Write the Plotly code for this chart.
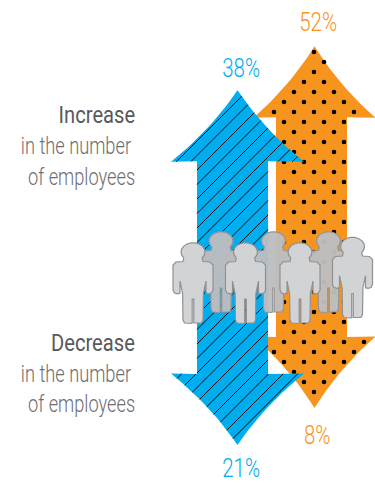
import math
import plotly.graph_objects as go

# Share of respondents expecting each change in headcount
series_colors = {"blue": "#00aeef", "orange": "#f7941d"}
increase_values = {"blue": 38, "orange": 52}
decrease_values = {"blue": 21, "orange": 8}

W, H = 375, 483

# Value scales: points to page pixels for the two arrow directions
UP_ZERO, UP_SCALE = 209.6, 3.14
DOWN_ZERO, DOWN_SCALE = 385.2, 2.85
HEAD_H = 71.5

HEAD_CENTER = {"blue": 237.5, "orange": 314.5}
HEAD_HALF = {"blue": 66.5, "orange": 61.0}
SHAFT_CENTER = {"blue": 232.5, "orange": 311.5}
SHAFT_HALF = {"blue": 35.5, "orange": 35.5}

BACK_ROW = [(221, 241), (273.5, 241), (328.5, 241)]
FRONT_ROW = [(193, 252), (245.5, 252), (300, 252), (352.5, 246.5)]


def bezier(p0, c, p1, n=14):
    pts = []
    for i in range(n + 1):
        t = i / n
        a, b, d = (1 - t) ** 2, 2 * t * (1 - t), t ** 2
        pts.append((a * p0[0] + b * c[0] + d * p1[0], a * p0[1] + b * c[1] + d * p1[1]))
    return pts


def double_arrow(cx, half, sx, shaft, top, bottom):
    """Closed outline of a two-headed arrow with concave head edges."""
    top_w, bot_w = top + HEAD_H, bottom - HEAD_H
    f, g = 0.40, 0.55
    pts = []
    pts += bezier((cx, top), (cx + f * half, top + g * HEAD_H), (cx + half, top_w))
    pts += [(sx + shaft, top_w - 0.5), (sx + shaft, bot_w + 0.5)]
    pts += bezier((cx + half, bot_w), (cx + f * half, bottom - g * HEAD_H), (cx, bottom))
    pts += bezier((cx, bottom), (cx - f * half, bottom - g * HEAD_H), (cx - half, bot_w))[1:]
    pts += [(sx - shaft, bot_w + 0.5), (sx - shaft, top_w - 0.5)]
    pts += bezier((cx - half, top_w), (cx - f * half, top + g * HEAD_H), (cx, top))
    return pts


def inside(pt, poly):
    x, y = pt
    hit = False
    for (x0, y0), (x1, y1) in zip(poly, poly[1:] + poly[:1]):
        if (y0 > y) != (y1 > y) and x < x0 + (y - y0) * (x1 - x0) / (y1 - y0):
            hit = not hit
    return hit


def hatch_segments(poly, offset0, step):
    """Clip 45-degree lines x + y = c to the outline."""
    xs, ys = [], []
    c = offset0
    while c < W + H:
        crossings = []
        for (x0, y0), (x1, y1) in zip(poly, poly[1:] + poly[:1]):
            s0, s1 = x0 + y0 - c, x1 + y1 - c
            if (s0 > 0) != (s1 > 0):
                t = s0 / (s0 - s1)
                crossings.append(x0 + t * (x1 - x0))
        crossings.sort()
        for a, b in zip(crossings[0::2], crossings[1::2]):
            xs += [a, b, None]
            ys += [c - a, c - b, None]
        c += step
    return xs, ys


def person(cx, cy):
    head = [(cx + 12 * math.sin(a), cy - 9.2 * math.cos(a))
            for a in [math.radians(d) for d in range(-130, 131, 20)]]
    right = [(10, 9.5), (17, 10), (20, 13), (20, 38), (18.5, 41), (15.5, 41.8),
             (13, 41.2), (13, 29), (10.4, 41.5), (10, 68), (8.5, 71), (2, 71.5),
             (0.8, 71), (0.8, 47)]
    left = [(-x, y) for x, y in reversed(right)]
    body = [(cx + x, cy + y) for x, y in right + left]
    return head + body


fig = go.Figure()


def add_polygon(pts, fill, line_color=None, line_width=0):
    closed = pts + pts[:1]
    fig.add_trace(go.Scatter(
        x=[p[0] for p in closed], y=[p[1] for p in closed],
        mode="lines", fill="toself", fillcolor=fill,
        line=dict(color=line_color or fill, width=line_width),
        hoverinfo="skip", showlegend=False))


def arrow_outline(key):
    return double_arrow(
        HEAD_CENTER[key], HEAD_HALF[key], SHAFT_CENTER[key], SHAFT_HALF[key],
        UP_ZERO - UP_SCALE * increase_values[key],
        DOWN_ZERO + DOWN_SCALE * decrease_values[key])


# Orange arrow with its staggered dot texture
orange_poly = arrow_outline("orange")
add_polygon(orange_poly, series_colors["orange"])
dots = [(314 + 10 * i, 52 + 10 * j)
        for j in range(0, 38) for i in range(-8, 8)
        if (i + j) % 2 == 0 and inside((314 + 10 * i, 52 + 10 * j), orange_poly)]
fig.add_trace(go.Scatter(
    x=[d[0] for d in dots], y=[d[1] for d in dots], mode="markers",
    marker=dict(color="#000000", size=4.6, line=dict(width=0)),
    hoverinfo="skip", showlegend=False))

# Blue arrow with diagonal hatching, drawn over the orange one
blue_poly = arrow_outline("blue")
add_polygon(blue_poly, series_colors["blue"])
hx, hy = hatch_segments(blue_poly, 338 - 14.5 * 2, 14.5)
fig.add_trace(go.Scatter(
    x=hx, y=hy, mode="lines", line=dict(color="#0a0a0a", width=1),
    hoverinfo="skip", showlegend=False))

# Crowd of figures straddling both arrows
for cx, cy in BACK_ROW:
    add_polygon(person(cx, cy), "rgba(188,189,192,0.96)", "#939598", 1.2)
for cx, cy in FRONT_ROW:
    add_polygon(person(cx, cy), "#d1d3d4", "#8f9194", 1.2)

FONT = "Roboto"


def pct(x, y, value, key):
    fig.add_annotation(x=x, y=y, text=f"{value}%", showarrow=False,
                       xanchor="center", yanchor="middle",
                       font=dict(family=FONT, size=25, weight=300, color=series_colors[key]))


pct(240.5, UP_ZERO - UP_SCALE * increase_values["blue"] - 22, increase_values["blue"], "blue")
pct(318, UP_ZERO - UP_SCALE * increase_values["orange"] - 24, increase_values["orange"], "orange")
pct(240.5, DOWN_ZERO + DOWN_SCALE * decrease_values["blue"] + 23.5, decrease_values["blue"], "blue")
pct(317, DOWN_ZERO + DOWN_SCALE * decrease_values["orange"] + 27, decrease_values["orange"], "orange")

side_labels = [
    ("Increase", 137, 115, "#58595b", 400),
    ("in the number", 133, 146, "#6d6e71", 300),
    ("of employees", 137, 177, "#6d6e71", 300),
    ("Decrease", 137, 343, "#58595b", 400),
    ("in the number", 133, 374, "#6d6e71", 300),
    ("of employees", 137, 404, "#6d6e71", 300),
]
for text, x, y, color, weight in side_labels:
    fig.add_annotation(x=x, y=y, text=text, showarrow=False,
                       xanchor="right", yanchor="middle",
                       font=dict(family=FONT, size=24, weight=weight, color=color))

fig.update_layout(
    width=W, height=H, margin=dict(l=0, r=0, t=0, b=0),
    paper_bgcolor="#ffffff", plot_bgcolor="#ffffff", showlegend=False,
    xaxis=dict(range=[0, W], visible=False, fixedrange=True),
    yaxis=dict(range=[H, 0], visible=False, fixedrange=True),
)

# Roboto has no condensed cut here, so the labels are narrowed horizontally,
# each about its own anchor edge.
CONDENSE = """
document.querySelectorAll('.annotation-text').forEach(function (t) {
  var label = t.textContent;
  var isPct = label.indexOf('%') >= 0;
  var isHead = label === 'Increase' || label === 'Decrease';
  var s = isPct ? 0.82 : (isHead ? 0.84 : 0.76);
  var b = t.getBBox();
  var x0 = isPct ? b.x + b.width / 2 : b.x + b.width;
  t.setAttribute('transform', 'translate(' + x0 * (1 - s) + ',0) scale(' + s + ',1)');
});
"""
fig.write_html("out.html", config={"displayModeBar": False}, post_script=CONDENSE)
